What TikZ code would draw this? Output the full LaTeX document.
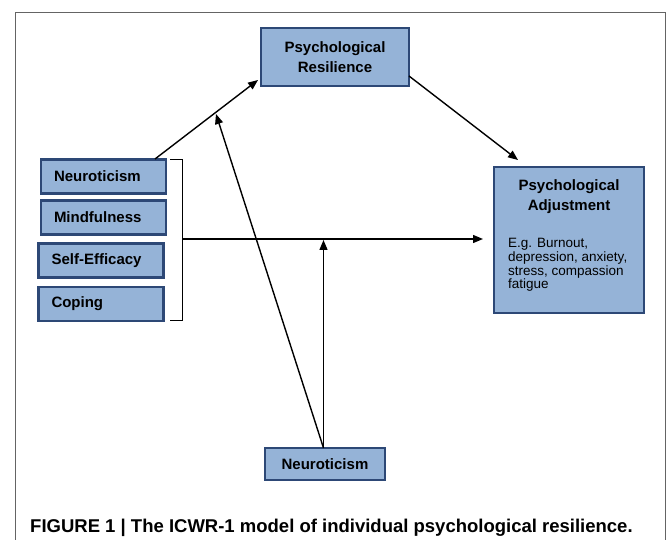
\documentclass[tikz,border=0pt]{standalone}
\usepackage{fontspec}
\setmainfont{Liberation Sans}
\usetikzlibrary{arrows.meta}
\definecolor{boxfill}{RGB}{149,179,215}
\definecolor{boxdraw}{RGB}{45,72,118}
\definecolor{framecol}{RGB}{100,100,100}
\begin{document}
\begin{tikzpicture}[x=1pt,y=-1pt,
  box/.style={draw=boxdraw, fill=boxfill, line width=2.8pt, inner sep=0pt},
  lbox/.style={box, minimum width=125, minimum height=34, text width=99, align=left,
    font=\fontsize{15}{18}\selectfont\bfseries},
  conn/.style={line width=1.4pt, -{Triangle[length=10pt,width=8pt]}},
  every node/.style={inner sep=0pt}]
\useasboundingbox (0,0) rectangle (670,540);
\fill[white] (0,0) rectangle (670,540);
% frame
\draw[framecol, line width=1pt] (15,545) -- (15,13) -- (665,13) -- (665,545);
% nodes
\node[box, minimum width=148, minimum height=58, align=center,
  font=\fontsize{15}{20}\selectfont\bfseries] (res) at (335,57) {Psychological\\Resilience};
\node[lbox] (neu) at (103.5,176.5) {Neuroticism};
\node[lbox] (mind) at (103.5,217.5) {Mindfulness};
\node[lbox] (self) at (101,260.5) {Self-Efficacy};
\node[lbox] (cop) at (101,304) {Coping};
\node[box, minimum width=150, minimum height=146] (adj) at (569,240) {};
\node[align=center, font=\fontsize{15}{20}\selectfont\bfseries, anchor=north] (adjt) at (569,179) {Psychological\\Adjustment};
\node[align=left, font=\fontsize{13.5}{13.8}\selectfont, anchor=north west] (adjb) at (508,238) {E.g. Burnout,\\depression, anxiety,\\stress, compassion\\fatigue};
\node[box, minimum width=120, minimum height=32,
  font=\fontsize{15}{18}\selectfont\bfseries] (neub) at (325,464) {Neuroticism};
% bracket
\coordinate (bt) at (182,160);
\coordinate (bb) at (182,321);
\coordinate (bm) at (182,239);
\draw[line width=1pt] (170,160) -- (bt) -- (bb) -- (170,321);
% connectors
\coordinate (a1s) at (155,159);
\coordinate (a1e) at (258,80);
\draw[conn] (a1s) -- (a1e);
\coordinate (a2s) at (409,76);
\coordinate (a2e) at (518,160);
\draw[conn] (a2s) -- (a2e);
\coordinate (a3e) at (483,239);
\draw[conn] (bm) -- (a3e);
\coordinate (nt) at (323.5,448);
\coordinate (a4e) at (323.5,240);
\draw[conn] (nt) -- (a4e);
\coordinate (a5e) at (216,114);
\draw[conn] (nt) -- (a5e);
% caption
\node[anchor=base west, font=\fontsize{18.5}{21}\selectfont\bfseries] (cap) at (30,532)
  {FIGURE 1 | The ICWR-1 model of individual psychological resilience.};
\end{tikzpicture}
\end{document}
